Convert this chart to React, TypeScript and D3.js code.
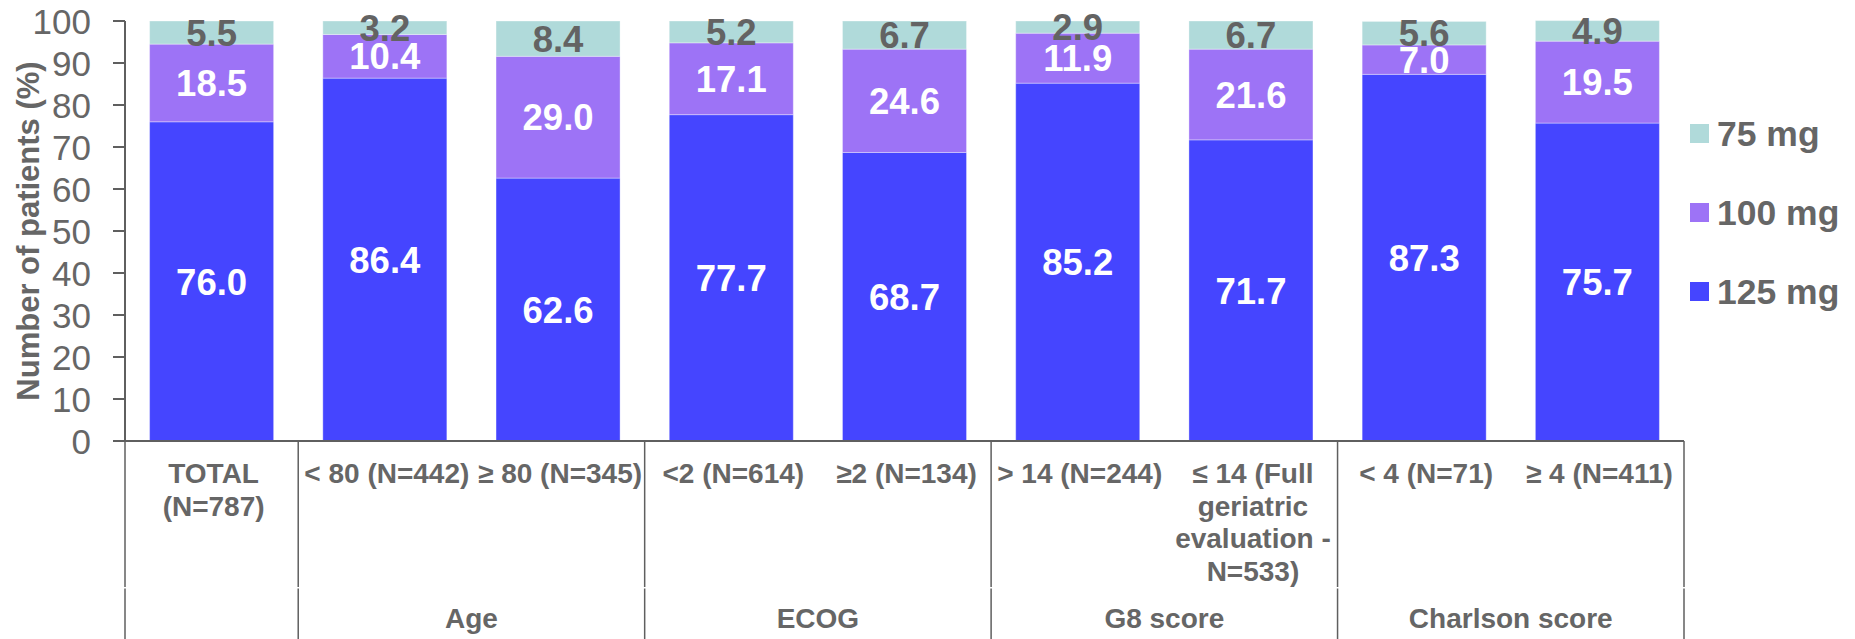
import React, { useEffect } from "react";
import * as d3 from "d3";

// Patient subgroups (one stacked bar each); multi-line labels are split into rows
const categories = [
  "TOTAL (N=787)",
  "< 80 (N=442)",
  "≥ 80 (N=345)",
  "<2 (N=614)",
  "≥2 (N=134)",
  "> 14 (N=244)",
  "≤ 14 (Full geriatric evaluation - N=533)",
  "< 4 (N=71)",
  "≥ 4 (N=411)",
];
const categoryLines = [
  ["TOTAL", "(N=787)"],
  ["< 80 (N=442)"],
  ["≥ 80 (N=345)"],
  ["<2 (N=614)"],
  ["≥2 (N=134)"],
  ["> 14 (N=244)"],
  ["≤ 14 (Full", "geriatric", "evaluation -", "N=533)"],
  ["< 4 (N=71)"],
  ["≥ 4 (N=411)"],
];

// Share of patients (%) by starting dose
const dose125 = [76.0, 86.4, 62.6, 77.7, 68.7, 85.2, 71.7, 87.3, 75.7];
const dose100 = [18.5, 10.4, 29.0, 17.1, 24.6, 11.9, 21.6, 7.0, 19.5];
const dose75 = [5.5, 3.2, 8.4, 5.2, 6.7, 2.9, 6.7, 5.6, 4.9];

const seriesKeys = ["125 mg", "100 mg", "75 mg"];
const legendOrder = ["75 mg", "100 mg", "125 mg"];

// Subgroup families spanning consecutive categories
const groupNames = ["", "Age", "ECOG", "G8 score", "Charlson score"];
const groupStarts = [0, 1, 3, 5, 7];
const groupEnds = [0, 2, 4, 6, 8];

const yTicks = [0, 10, 20, 30, 40, 50, 60, 70, 80, 90, 100];

const W = 1855;
const H = 639;
const FONT = "'Liberation Sans', Arial, Helvetica, sans-serif";
const GRAY = "#666666";
const AXIS = "#5f5f5f";

const colors: Record<string, string> = {
  "125 mg": "#4545FF",
  "100 mg": "#9D73F6",
  "75 mg": "#B0DADA",
};
const labelColors: Record<string, string> = {
  "125 mg": "#ffffff",
  "100 mg": "#ffffff",
  "75 mg": "#636363",
};

export default function App() {
  useEffect(() => {
    document.body.style.margin = "0";
    document.body.style.overflow = "hidden";
  }, []);

  const plotLeft = 125;
  const plotRight = 1684;
  const plotTop = 21;
  const plotBottom = 441;

  const x = d3
    .scaleBand<string>()
    .domain(categories)
    .range([plotLeft, plotRight])
    .paddingInner(0.284)
    .paddingOuter(0.142);
  const y = d3.scaleLinear().domain([0, 100]).range([plotBottom, plotTop]);

  const rows = categories.map((c, i) => ({
    cat: c,
    "125 mg": dose125[i],
    "100 mg": dose100[i],
    "75 mg": dose75[i],
  }));
  const stacked = d3.stack<any>().keys(seriesKeys)(rows);

  const step = x.step();
  const gapHalf = (x.paddingInner() * step) / 2;
  const bandLeft = (i: number) => (x(categories[i]) as number) - gapHalf;
  const bandRight = (i: number) => (x(categories[i]) as number) + x.bandwidth() + gapHalf;

  const separators = [plotLeft, ...groupEnds.map((e) => bandRight(e))];

  const legendX = 1690;
  const legendY0 = 133.5;
  const legendStep = 79;

  return (
    <svg width={W} height={H} style={{ display: "block" }} fontFamily={FONT}>
      <rect width={W} height={H} fill="#ffffff" />

      {/* stacked bars */}
      {stacked.map((layer) => (
        <g key={layer.key}>
          {layer.map((d, i) => (
            <rect
              key={i}
              x={x(categories[i])}
              width={x.bandwidth()}
              y={y(d[1])}
              height={y(d[0]) - y(d[1])}
              fill={colors[layer.key]}
              stroke="rgba(255,255,255,0.35)"
              strokeWidth={1}
            />
          ))}
        </g>
      ))}

      {/* value labels centred in each segment */}
      {stacked.map((layer) => (
        <g key={"lbl" + layer.key}>
          {layer.map((d, i) => (
            <text
              key={i}
              x={(x(categories[i]) as number) + x.bandwidth() / 2}
              y={(y(d[0]) + y(d[1])) / 2}
              dy="0.36em"
              textAnchor="middle"
              fontSize={36.5}
              fontWeight="bold"
              fill={labelColors[layer.key]}
            >
              {(d[1] - d[0]).toFixed(1)}
            </text>
          ))}
        </g>
      ))}

      {/* y axis */}
      <line x1={plotLeft} x2={plotLeft} y1={plotTop} y2={plotBottom} stroke={AXIS} strokeWidth={2} />
      {yTicks.map((t) => (
        <g key={t}>
          <line x1={plotLeft - 12} x2={plotLeft} y1={y(t)} y2={y(t)} stroke={AXIS} strokeWidth={2} />
          <text
            x={91}
            y={y(t)}
            dy="0.36em"
            textAnchor="end"
            fontSize={35}
            fill={GRAY}
          >
            {t}
          </text>
        </g>
      ))}
      <text
        transform={`translate(38.5, ${(plotTop + plotBottom) / 2}) rotate(-90)`}
        textAnchor="middle"
        fontSize={31}
        fontWeight="bold"
        fill={GRAY}
      >
        Number of patients (%)
      </text>

      {/* x axis and multi-level category separators */}
      <line x1={plotLeft} x2={plotRight} y1={plotBottom} y2={plotBottom} stroke={AXIS} strokeWidth={2} />
      {separators.map((sx, i) => (
        <g key={i}>
          <line x1={sx} x2={sx} y1={plotBottom} y2={587} stroke={AXIS} strokeWidth={1.5} />
          <line x1={sx} x2={sx} y1={588.5} y2={H} stroke={AXIS} strokeWidth={1.5} />
        </g>
      ))}

      {/* category labels */}
      {categoryLines.map((lines, i) => (
        <text
          key={i}
          textAnchor="middle"
          fontSize={28}
          fontWeight="bold"
          fill={GRAY}
        >
          {lines.map((ln, j) => (
            <tspan key={j} x={(x(categories[i]) as number) + x.bandwidth() / 2 + 2} y={483 + j * 32.5}>
              {ln}
            </tspan>
          ))}
        </text>
      ))}

      {/* group labels */}
      {groupNames.map((g, k) =>
        g ? (
          <text
            key={g}
            x={(bandLeft(groupStarts[k]) + bandRight(groupEnds[k])) / 2}
            y={628}
            textAnchor="middle"
            fontSize={28}
            fontWeight="bold"
            fill={GRAY}
          >
            {g}
          </text>
        ) : null
      )}

      {/* legend */}
      {legendOrder.map((k, i) => (
        <g key={k} transform={`translate(${legendX}, ${legendY0 + i * legendStep})`}>
          <rect x={0} y={-9.5} width={19} height={19} fill={colors[k]} />
          <text x={27} y={0} dy="0.36em" fontSize={35.5} fontWeight="bold" fill={GRAY}>
            {k}
          </text>
        </g>
      ))}
    </svg>
  );
}
